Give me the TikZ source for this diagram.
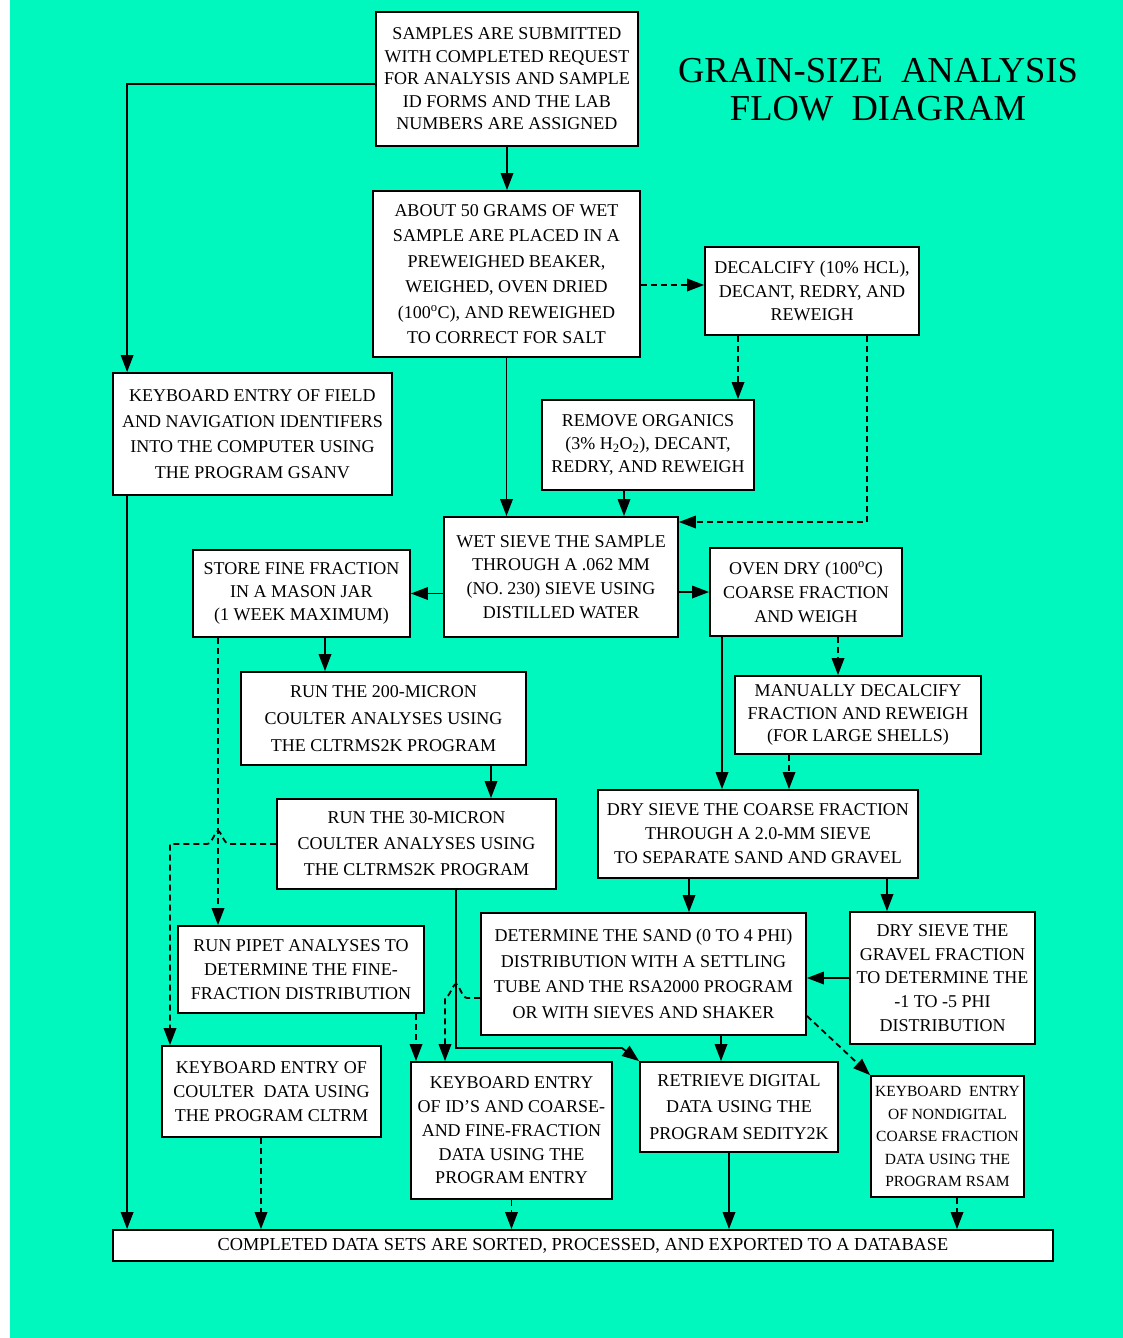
\documentclass[tikz,border=0pt]{standalone}
\usepackage{fontspec}
\setmainfont{Liberation Serif}
\usetikzlibrary{arrows.meta}
\definecolor{sheet}{RGB}{0,248,190}
\newcommand\boxfont[2]{\fontsize{#1}{#2}\selectfont}

\begin{document}
\begin{tikzpicture}[x=1pt, y=-1pt, >={Triangle[length=17pt,width=12.5pt]},
	box/.style={draw, line width=1.8pt, fill=white, align=center, inner sep=0pt, font=\boxfont{18}{24}},
	flow/.style={line width=1.8pt, ->},
	dashflow/.style={flow, dash pattern=on 6pt off 4pt}]
	\fill[white] (0,0) rectangle (1123,1338);
	\fill[sheet] (10,0) rectangle (1123,1338);
	\useasboundingbox (0,0) rectangle (1123,1338);
	% title
	\node[align=center, font=\boxfont{36.5}{38}] (title) at (878,90) {GRAIN-SIZE\ \ ANALYSIS\\FLOW\ \ DIAGRAM};
	% boxes
	\node[box, minimum width=262pt, minimum height=134pt, font=\boxfont{18}{22.5}] (samples) at (507,79) {SAMPLES ARE SUBMITTED\\WITH COMPLETED REQUEST\\FOR ANALYSIS AND SAMPLE\\ID FORMS AND THE LAB\\NUMBERS ARE ASSIGNED};
	\node[box, minimum width=267pt, minimum height=166pt, font=\boxfont{18}{25.4}] (about) at (506.5,274) {ABOUT 50 GRAMS OF WET\\SAMPLE ARE PLACED IN A\\PREWEIGHED BEAKER,\\WEIGHED, OVEN DRIED\\(100\textsuperscript{o}C), AND REWEIGHED\\TO CORRECT FOR SALT};
	\node[box, minimum width=214pt, minimum height=88pt, font=\boxfont{18}{23.5}] (decalc) at (812,291) {DECALCIFY (10\% HCL),\\DECANT, REDRY, AND\\REWEIGH};
	\node[box, minimum width=279pt, minimum height=122pt, font=\boxfont{18}{25.5}] (kbfield) at (252.5,434) {KEYBOARD ENTRY OF FIELD\\AND NAVIGATION IDENTIFERS\\INTO THE COMPUTER USING\\THE PROGRAM GSANV};
	\node[box, minimum width=212pt, minimum height=90pt, font=\boxfont{18}{23}] (organics) at (648,445) {REMOVE ORGANICS\\(3\% H\textsubscript{2}O\textsubscript{2}), DECANT,\\REDRY, AND REWEIGH};
	\node[box, minimum width=234pt, minimum height=120pt, font=\boxfont{18}{23.7}] (wetsieve) at (561,577) {WET SIEVE THE SAMPLE\\THROUGH A .062 MM\\(NO. 230) SIEVE USING\\DISTILLED WATER};
	\node[box, minimum width=217pt, minimum height=87pt, font=\boxfont{18}{23}] (storefine) at (301.5,593.5) {STORE FINE FRACTION\\IN A MASON JAR\\(1 WEEK MAXIMUM)};
	\node[box, minimum width=192pt, minimum height=88pt] (ovendry) at (806,592) {OVEN DRY (100\textsuperscript{o}C)\\COARSE FRACTION\\AND WEIGH};
	\node[box, minimum width=285pt, minimum height=93pt, font=\boxfont{18}{27}] (run200) at (383.5,718.5) {RUN THE 200-MICRON\\COULTER ANALYSES USING\\THE CLTRMS2K PROGRAM};
	\node[box, minimum width=246pt, minimum height=78pt, font=\boxfont{18}{22.5}] (manual) at (858,715) {MANUALLY DECALCIFY\\FRACTION AND REWEIGH\\(FOR LARGE SHELLS)};
	\node[box, minimum width=279pt, minimum height=90pt, font=\boxfont{18}{26}] (run30) at (416.5,844) {RUN THE 30-MICRON\\COULTER ANALYSES USING\\THE CLTRMS2K PROGRAM};
	\node[box, minimum width=320pt, minimum height=88pt] (drysieve) at (758,834) {DRY SIEVE THE COARSE FRACTION\\THROUGH A 2.0-MM SIEVE\\TO SEPARATE SAND AND GRAVEL};
	\node[box, minimum width=325pt, minimum height=122pt, font=\boxfont{18}{25.7}] (determine) at (643.5,974) {DETERMINE THE SAND (0 TO 4 PHI)\\DISTRIBUTION WITH A SETTLING\\TUBE AND THE RSA2000 PROGRAM\\OR WITH SIEVES AND SHAKER};
	\node[box, minimum width=185pt, minimum height=132pt, font=\boxfont{18}{23.8}] (drygravel) at (942.5,978) {DRY SIEVE THE\\GRAVEL FRACTION\\TO DETERMINE THE\\-1 TO -5 PHI\\DISTRIBUTION};
	\node[box, minimum width=246pt, minimum height=87pt] (pipet) at (301,969.5) {RUN PIPET ANALYSES TO\\DETERMINE THE FINE-\\FRACTION DISTRIBUTION};
	\node[box, minimum width=219pt, minimum height=91pt] (kbcoulter) at (271.5,1091.5) {KEYBOARD ENTRY OF\\COULTER\ \ DATA USING\\THE PROGRAM CLTRM};
	\node[box, minimum width=201pt, minimum height=137pt, font=\boxfont{18}{23.7}] (kbentry) at (511.5,1130.5) {KEYBOARD ENTRY\\OF ID'S AND COARSE-\\AND FINE-FRACTION\\DATA USING THE\\PROGRAM ENTRY};
	\node[box, minimum width=198pt, minimum height=90pt, font=\boxfont{18}{26.5}] (retrieve) at (739,1107) {RETRIEVE DIGITAL\\DATA USING THE\\PROGRAM SEDITY2K};
	\node[box, minimum width=153pt, minimum height=121pt, font=\boxfont{15.5}{22.5}] (kbrsam) at (947.5,1136.5) {KEYBOARD\ \ ENTRY\\OF NONDIGITAL\\COARSE FRACTION\\DATA USING THE\\PROGRAM RSAM};
	\node[box, minimum width=940pt, minimum height=31pt, font=\boxfont{18.3}{24}] (completed) at (583,1245.5) {COMPLETED DATA SETS ARE SORTED, PROCESSED, AND EXPORTED TO A DATABASE};
	% connectors
	\draw[flow] (samples.south) -- (samples.south |- about.north);
	\draw[flow] ([yshift=-5pt]samples.west) -| ([xshift=15pt]kbfield.north west);
	\draw[flow] ([xshift=15pt]kbfield.south west) -- ([xshift=15pt]kbfield.south west |- completed.north);
	\draw[dashflow] ([yshift=-11pt]about.east) -- ([yshift=-11pt]about.east -| decalc.west);
	\draw[dashflow] ([xshift=-74pt]decalc.south) -- ([xshift=-74pt]decalc.south |- organics.north);
	\draw[dashflow] ([xshift=55pt]decalc.south) |- ([yshift=55pt]wetsieve.east);
	\draw[flow] (about.south) -- (about.south |- wetsieve.north);
	\draw[flow] ([xshift=-24pt]organics.south) -- ([xshift=-24pt]organics.south |- wetsieve.north);
	\draw[flow] (wetsieve.west |- storefine.east) -- (storefine.east);
	\draw[flow] (wetsieve.east |- ovendry.west) -- (ovendry.west);
	\draw[flow] ([xshift=23.5pt]storefine.south) -- ([xshift=23.5pt]storefine.south |- run200.north);
	\draw[dashflow] ([xshift=-83.5pt]storefine.south) -- ([xshift=-83.5pt]storefine.south |- pipet.north);
	\draw[flow] ([xshift=107.5pt]run200.south) -- ([xshift=107.5pt]run200.south |- run30.north);
	\draw[dashflow] (run30.west) -- (229,844) .. controls (224,844) and (221,831) .. (218,831) .. controls (215,831) and (212,844) .. (207,844) -| ([xshift=-101.5pt]kbcoulter.north);
	\draw[flow] ([xshift=39.5pt]run30.south) -- (456,1048) -- (622,1048) -- (retrieve.north west);
	\draw[flow] ([xshift=-84pt]ovendry.south) -- ([xshift=-84pt]ovendry.south |- drysieve.north);
	\draw[dashflow] ([xshift=32pt]ovendry.south) -- ([xshift=32pt]ovendry.south |- manual.north);
	\draw[dashflow] ([xshift=-69pt]manual.south) -- ([xshift=-69pt]manual.south |- drysieve.north);
	\draw[flow] ([xshift=-69pt]drysieve.south) -- ([xshift=-69pt]drysieve.south |- determine.north);
	\draw[flow] ([xshift=129pt]drysieve.south) -- ([xshift=129pt]drysieve.south |- drygravel.north);
	\draw[flow] (drygravel.west) -- (drygravel.west -| determine.east);
	\draw[dashflow] ([yshift=-24pt]determine.west) -- (467,998) .. controls (462,998) and (459,984) .. (456,984) .. controls (453,984) and (449,998) .. (445,998) -- ([xshift=-66.5pt]kbentry.north);
	\draw[flow] ([xshift=77.5pt]determine.south) -- ([xshift=77.5pt]determine.south |- retrieve.north);
	\draw[dashflow] ([yshift=20pt]determine.south east) -- (kbrsam.north west);
	\draw[dashflow] ([xshift=115pt]pipet.south) -- ([xshift=115pt]pipet.south |- kbentry.north);
	\draw[dashflow] ([xshift=-10.5pt]kbcoulter.south) -- ([xshift=-10.5pt]kbcoulter.south |- completed.north);
	\draw[dashflow] (kbentry.south) -- (kbentry.south |- completed.north);
	\draw[flow] ([xshift=-10pt]retrieve.south) -- ([xshift=-10pt]retrieve.south |- completed.north);
	\draw[dashflow] ([xshift=9.5pt]kbrsam.south) -- ([xshift=9.5pt]kbrsam.south |- completed.north);
\end{tikzpicture}
\end{document}
